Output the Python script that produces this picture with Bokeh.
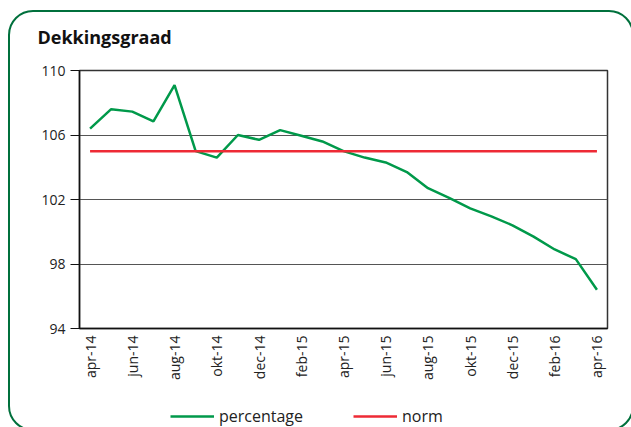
import math
from bokeh.plotting import figure
from bokeh.layouts import column
from bokeh.models import (FixedTicker, Legend, LegendItem, Range1d, InlineStyleSheet)
from bokeh.embed import file_html
from bokeh.resources import INLINE

months = ["apr-14", "mei-14", "jun-14", "jul-14", "aug-14", "sep-14", "okt-14",
          "nov-14", "dec-14", "jan-15", "feb-15", "mrt-15", "apr-15", "mei-15",
          "jun-15", "jul-15", "aug-15", "sep-15", "okt-15", "nov-15", "dec-15",
          "jan-16", "feb-16", "mrt-16", "apr-16"]
percentage = [106.4, 107.6, 107.45, 106.85, 109.1, 105.0, 104.6, 106.0, 105.7,
              106.3, 105.95, 105.6, 105.0, 104.6, 104.3, 103.7, 102.7, 102.1,
              101.45, 100.95, 100.4, 99.7, 98.9, 98.3, 96.4]
norm = [105.0] * len(months)
y_ticks = [94, 98, 102, 106, 110]
x_tick_labels = ["apr-14", "jun-14", "aug-14", "okt-14", "dec-14", "feb-15",
                 "apr-15", "jun-15", "aug-15", "okt-15", "dec-15", "feb-16", "apr-16"]
series_names = ["percentage", "norm"]
series_values = [percentage, norm]
series_colors = ["#00994a", "#ee2a35"]

FONT = "Open Sans"
xs = list(range(len(months)))

# ---------------- main chart ----------------
p = figure(width=631, height=395, output_backend="svg", toolbar_location=None,
           x_range=Range1d(-0.5, len(months) - 0.5), y_range=Range1d(94, 110),
           min_border_left=79, min_border_right=24, min_border_top=70,
           min_border_bottom=67)

p.title.text = "Dekkingsgraad"
p.title.text_font = FONT
p.title.text_font_size = "18px"
p.title.text_font_style = "bold"
p.title.text_color = "#111111"
p.title.align = "left"
p.title.offset = -42
p.title.standoff = 44

p.background_fill_color = "white"
p.border_fill_color = None
p.outline_line_color = "#333333"
p.outline_line_width = 1.5

p.xgrid.visible = False
p.ygrid.ticker = FixedTicker(ticks=[98, 102, 106])
p.ygrid.grid_line_color = "#555555"
p.ygrid.grid_line_width = 1.2

p.yaxis.ticker = FixedTicker(ticks=y_ticks)
p.yaxis.major_tick_out = 9
p.yaxis.major_tick_in = 0
p.yaxis.minor_tick_line_color = None
p.yaxis.axis_line_color = "#111111"
p.yaxis.axis_line_width = 1.5
p.yaxis.major_tick_line_color = "#111111"
p.yaxis.major_label_text_font = FONT
p.yaxis.major_label_text_font_size = "14px"
p.yaxis.major_label_text_color = "#222222"
p.yaxis.major_label_standoff = 5

tick_pos = [months.index(m) for m in x_tick_labels]
p.xaxis.ticker = FixedTicker(ticks=tick_pos)
p.xaxis.major_label_overrides = {i: months[i] for i in tick_pos}
p.xaxis.major_label_orientation = math.pi / 2
p.xaxis.major_tick_out = 0
p.xaxis.major_tick_in = 0
p.xaxis.minor_tick_line_color = None
p.xaxis.axis_line_color = "#111111"
p.xaxis.axis_line_width = 1.5
p.xaxis.major_label_text_font = FONT
p.xaxis.major_label_text_font_size = "14px"
p.xaxis.major_label_text_color = "#222222"
p.xaxis.major_label_standoff = 7

for vals, color in zip(series_values, series_colors):
    p.line(xs, vals, line_color=color, line_width=2.5)

# ---------------- legend strip ----------------
lg = figure(width=631, height=32, output_backend="svg", toolbar_location=None,
            x_range=Range1d(-0.5, len(months) - 0.5), y_range=Range1d(94, 110),
            x_axis_type=None, y_axis_type=None,
            min_border=0, min_border_left=0, min_border_right=0,
            min_border_top=0, min_border_bottom=0)
lg.outline_line_color = None
lg.background_fill_color = None
lg.border_fill_color = None
lg.grid.visible = False

items = []
for name, vals, color in zip(series_names, series_values, series_colors):
    rr = lg.line(xs, vals, line_color=color, line_width=2.5, visible=False)
    items.append(LegendItem(label=name, renderers=[rr]))

legend = Legend(items=items, orientation="horizontal", location=(91, 0))
legend.label_text_font = FONT
legend.label_text_font_size = "16px"
legend.label_text_color = "#222222"
legend.glyph_width = 44
legend.glyph_height = 18
legend.label_height = 18
legend.label_standoff = 5
legend.spacing = 50
legend.padding = 0
legend.margin = 0
legend.border_line_color = None
legend.background_fill_alpha = 0
legend.inactive_fill_alpha = 0
lg.add_layout(legend)

layout = column(p, lg, spacing=0)
layout.stylesheets = [InlineStyleSheet(css="""
:host { overflow: hidden; position: relative; background: white; }
:host::after {
  content: ""; position: absolute; left: 8px; top: 10px; right: -3px; bottom: -4px;
  box-sizing: border-box; max-width: none; max-height: none;
  border: 2.5px solid #00703c; border-radius: 25px; pointer-events: none;
}
""")]

open("out.html", "w").write(file_html(layout, INLINE))
